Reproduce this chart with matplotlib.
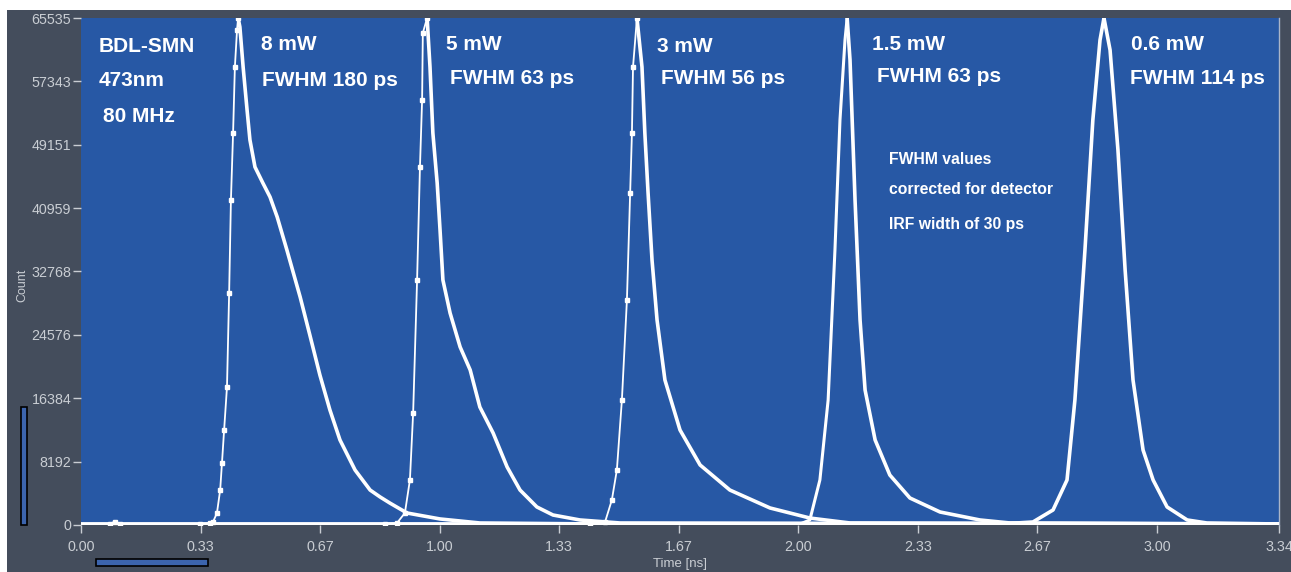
import matplotlib
matplotlib.use("Agg")
import matplotlib.pyplot as plt
from matplotlib.patches import Rectangle

# ---------------- data ----------------
y_ticks = [0, 8192, 16384, 24576, 32768, 40959, 49151, 57343, 65535]
x_ticks = [0.0, 1/3, 2/3, 1.0, 4/3, 5/3, 2.0, 7/3, 8/3, 3.0, 3.34]
x_tick_labels = ["0.00", "0.33", "0.67", "1.00", "1.33", "1.67", "2.00",
                 "2.33", "2.67", "3.00", "3.34"]

# 8 mW pulse
p1_rise_t = [0.0, 0.080, 0.095, 0.110, 0.332, 0.360, 0.368, 0.379, 0.388, 0.393,
             0.399, 0.407, 0.413, 0.418, 0.424, 0.429, 0.435, 0.438]
p1_rise_c = [150, 150, 450, 150, 130, 260, 390, 1550, 4520, 8010,
             12280, 17840, 29990, 42010, 50670, 59200, 63980, 65535]
p1_fall_t = [0.438, 0.443, 0.452, 0.463, 0.471, 0.485, 0.507, 0.527, 0.547, 0.574,
             0.611, 0.638, 0.666, 0.694, 0.722, 0.764, 0.806, 0.834, 0.861, 0.909,
             1.001, 1.112, 1.447, 3.34]
p1_fall_c = [65535, 64370, 59200, 53640, 49770, 46280, 44210, 42400, 39810, 35550,
             29470, 24560, 19390, 14860, 10990, 7110, 4520, 3620, 2840, 1550,
             780, 260, 130, 130]

# 5 mW pulse
p2_rise_t = [0.0, 0.848, 0.881, 0.903, 0.917, 0.926, 0.937, 0.945, 0.951, 0.953, 0.965]
p2_rise_c = [130, 130, 260, 1550, 5820, 14480, 31670, 46280, 54940, 63600, 65535]
p2_fall_t = [0.965, 0.973, 0.981, 0.993, 1.001, 1.009, 1.029, 1.057, 1.085, 1.112,
             1.149, 1.188, 1.224, 1.271, 1.316, 1.391, 1.503, 3.34]
p2_fall_c = [65535, 59200, 50670, 44210, 38130, 31670, 27400, 23010, 20040, 15250,
             11890, 7500, 4520, 2330, 1290, 650, 260, 130]

# 3 mW pulse
p3_rise_t = [0.0, 1.419, 1.461, 1.480, 1.494, 1.508, 1.522, 1.531, 1.536, 1.539, 1.550]
p3_rise_c = [130, 130, 390, 3230, 7110, 16160, 29080, 42910, 50670, 59200, 65535]
p3_fall_t = [1.550, 1.564, 1.572, 1.581, 1.592, 1.606, 1.628, 1.670, 1.726, 1.809,
             1.921, 2.032, 2.144, 3.34]
p3_fall_c = [65535, 59200, 50670, 42910, 34250, 26500, 18740, 12280, 7760, 4520,
             2200, 900, 260, 130]

# 1.5 mW pulse
p4_rise_t = [0.0, 2.005, 2.032, 2.060, 2.083, 2.102, 2.116, 2.130, 2.136]
p4_rise_c = [130, 130, 650, 5820, 16160, 35550, 52350, 62690, 65535]
p4_fall_t = [2.136, 2.144, 2.158, 2.172, 2.186, 2.214, 2.255, 2.311, 2.395, 2.506,
             2.590, 3.34]
p4_fall_c = [65535, 60110, 42010, 26500, 17450, 10990, 6460, 3490, 1680, 650,
             260, 130]

# 0.6 mW pulse
p5_rise_t = [0.0, 2.562, 2.654, 2.710, 2.749, 2.771, 2.799, 2.821, 2.841, 2.852]
p5_rise_c = [130, 130, 390, 1940, 5820, 16160, 35550, 52350, 62690, 65535]
p5_fall_t = [2.852, 2.869, 2.891, 2.911, 2.933, 2.961, 2.989, 3.028, 3.084, 3.139, 3.34]
p5_fall_c = [65535, 61400, 48470, 32960, 18740, 9690, 5820, 2330, 650, 260, 130]

pulse_labels = ["8 mW", "5 mW", "3 mW", "1.5 mW", "0.6 mW"]
fwhm_labels = ["FWHM 180 ps", "FWHM 63 ps", "FWHM 56 ps", "FWHM 63 ps", "FWHM 114 ps"]
info_lines = ["BDL-SMN", "473nm", "80 MHz"]
note_lines = ["FWHM values", "corrected for detector", "IRF width of 30 ps"]

# ---------------- figure ----------------
W, H = 1291, 572
fig = plt.figure(figsize=(W / 100, H / 100), dpi=100, facecolor="white")
GRAY = "#444d5c"
BLUE = "#2758a5"
TICKC = "#c9cdd3"

fig.patches.append(Rectangle((7 / W, 0), 1 - 7 / W, 562 / H, transform=fig.transFigure,
                             facecolor=GRAY, edgecolor="none", zorder=-10))

ax = fig.add_axes([81 / W, (H - 525) / H, 1198 / W, 507 / H])
ax.set_facecolor(BLUE)
ax.set_xlim(0, 3.34)
ax.set_ylim(0, 65535)

rises = [(p1_rise_t, p1_rise_c), (p2_rise_t, p2_rise_c), (p3_rise_t, p3_rise_c),
         (p4_rise_t, p4_rise_c), (p5_rise_t, p5_rise_c)]
falls = [(p1_fall_t, p1_fall_c), (p2_fall_t, p2_fall_c), (p3_fall_t, p3_fall_c),
         (p4_fall_t, p4_fall_c), (p5_fall_t, p5_fall_c)]
rise_lw = [1.3, 1.3, 1.3, 2.2, 2.6]
rise_markers = [True, True, True, False, False]
for (rt, rc), (ft, fc), lw, mk in zip(rises, falls, rise_lw, rise_markers):
    ax.plot(rt, rc, color="white", lw=lw, solid_joinstyle="round", zorder=3)
    if mk:
        ax.plot(rt[1:], rc[1:], ls="none", marker="s", ms=2.2, color="white", zorder=3)
    ax.plot(ft, fc, color="white", lw=2.6, solid_joinstyle="round", zorder=3)

ax.set_yticks(y_ticks)
ax.set_yticklabels([str(v) for v in y_ticks])
ax.set_xticks(x_ticks)
ax.set_xticklabels(x_tick_labels)
ax.tick_params(axis="both", colors=TICKC, labelcolor=TICKC, length=6, width=1,
               direction="out", labelsize=10.3, pad=1)
ax.tick_params(axis="x", pad=5)
for lab in ax.get_xticklabels() + ax.get_yticklabels():
    lab.set_family("Liberation Sans")

for s in ["top", "left", "bottom"]:
    ax.spines[s].set_visible(False)
ax.spines["right"].set_color("#aab4c8")
ax.spines["right"].set_linewidth(1)

fig.text(22 / W, 1 - 285 / H, "Count", rotation=90, color=TICKC, fontsize=9,
         family="Liberation Sans", ha="center", va="center")
fig.text(680 / W, 1 - 564 / H, "Time [ns]", color=TICKC, fontsize=9.5,
         family="Liberation Sans", ha="center", va="center")

# scrollbar-like widgets
fig.patches.append(Rectangle((21 / W, (H - 525) / H), 6 / W, 118 / H, transform=fig.transFigure,
                             facecolor="#3c64ad", edgecolor="black", lw=1.2))
fig.patches.append(Rectangle((96 / W, (H - 566) / H), 112 / W, 7 / H, transform=fig.transFigure,
                             facecolor="#3c64ad", edgecolor="black", lw=1.2))

# annotations (axes-fraction positions)
def px(x, y):
    return (x - 81) / 1198, (525 - y) / 507

bold = dict(color="white", fontsize=15, fontweight="bold", family="Liberation Sans",
            ha="left", va="center")
info_pos = [(99, 47), (99, 81), (103, 116)]
for t, (x, y) in zip(info_lines, info_pos):
    ax.text(*px(x, y), t, transform=ax.transAxes, **bold)

label_pos = [(261, 44), (446, 44), (657, 46), (872, 45), (1131, 45)]
fwhm_pos = [(262, 80), (450, 79), (661, 79), (877, 77), (1130, 78)]
for t, (x, y) in zip(pulse_labels, label_pos):
    ax.text(*px(x, y), t, transform=ax.transAxes, **bold)
for t, (x, y) in zip(fwhm_labels, fwhm_pos):
    ax.text(*px(x, y), t, transform=ax.transAxes, **bold)

small = dict(bold)
small["fontsize"] = 11.3
note_pos = [(889, 160), (889, 190), (889, 224)]
for t, (x, y) in zip(note_lines, note_pos):
    ax.text(*px(x, y), t, transform=ax.transAxes, **small)

fig.savefig("out.png", dpi=100, facecolor=fig.get_facecolor())
